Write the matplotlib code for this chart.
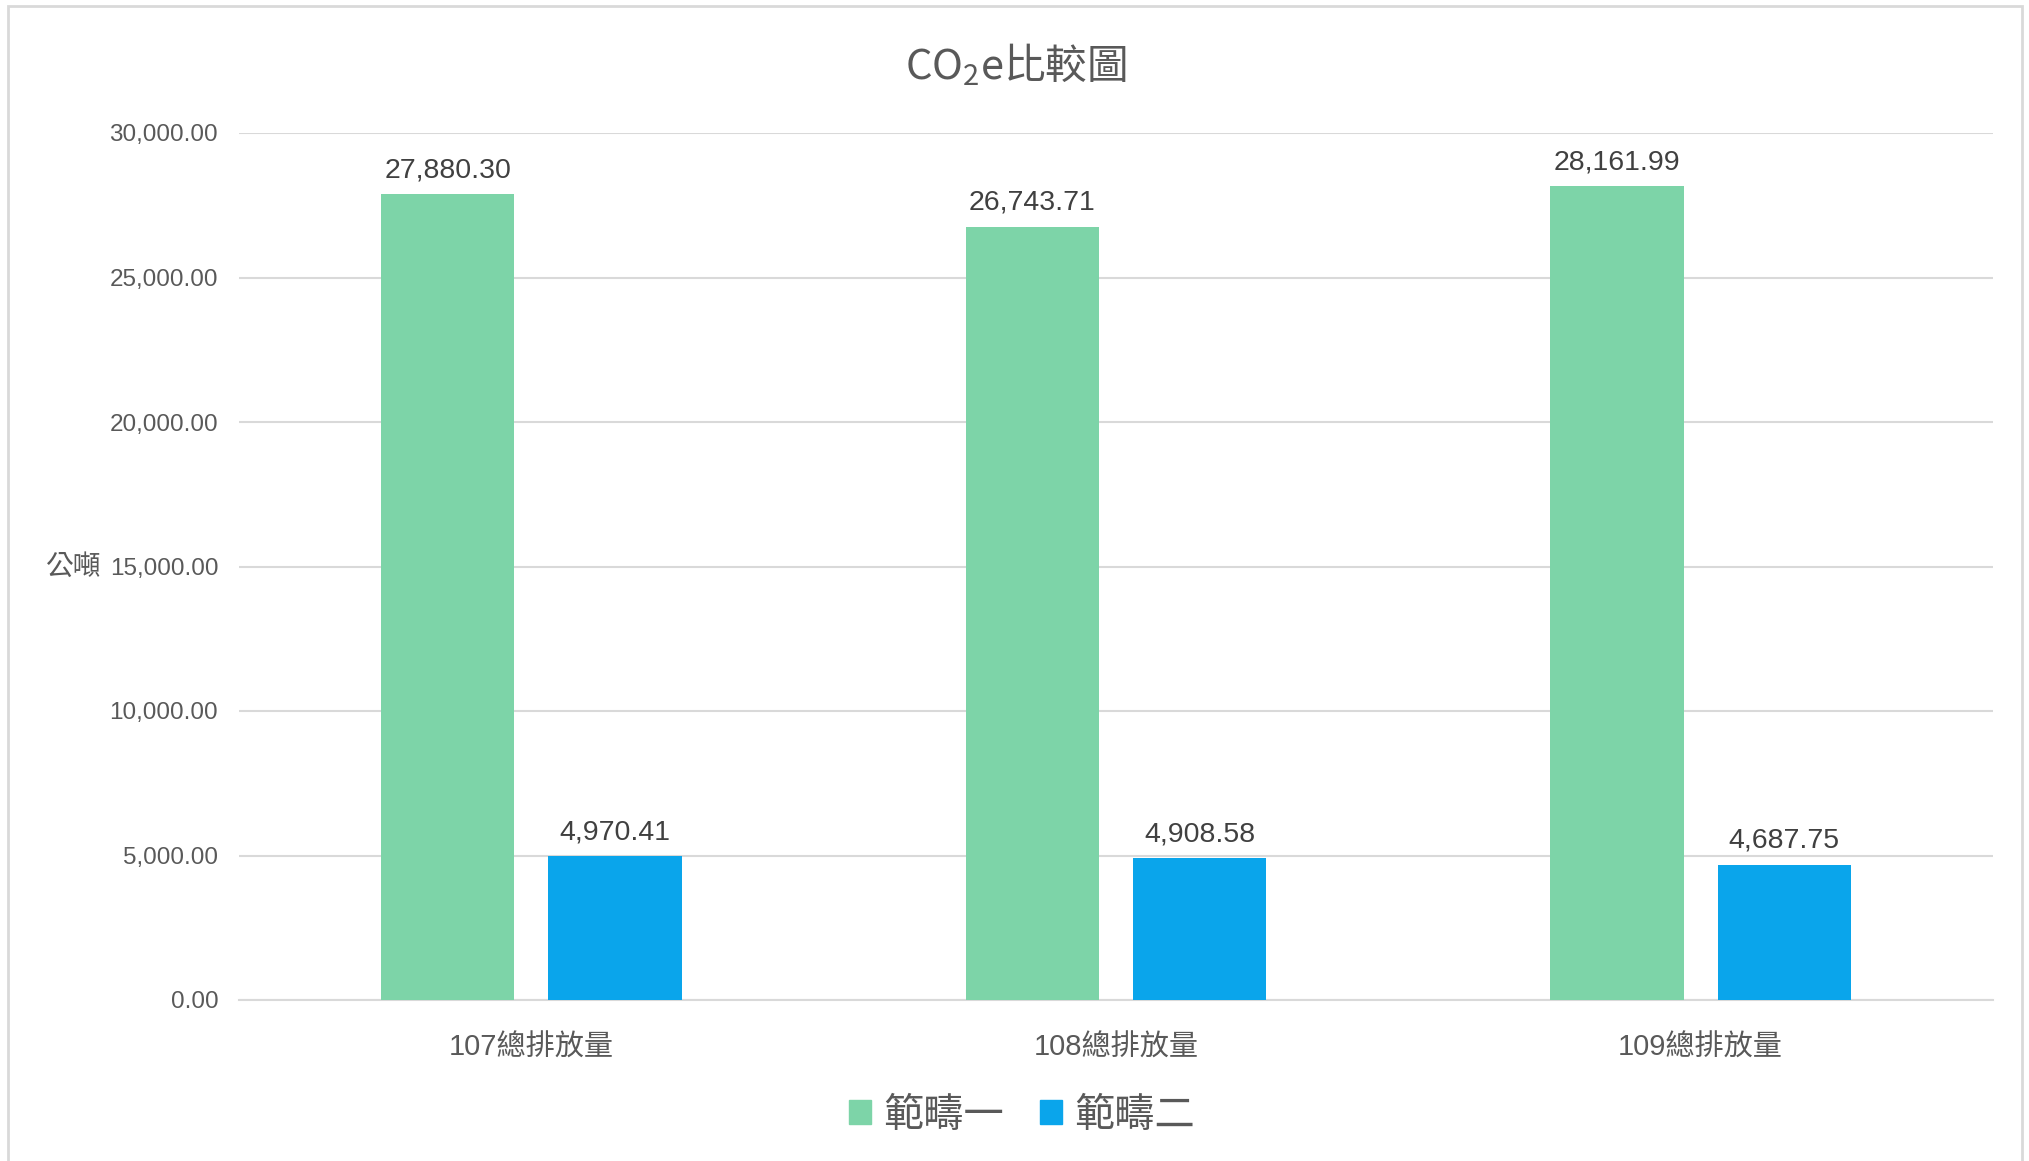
import numpy as np
import matplotlib.pyplot as plt
from matplotlib.patches import Patch, Rectangle
from matplotlib.ticker import FuncFormatter

# data
categories = ['107總排放量', '108總排放量', '109總排放量']
scope1 = [27880.30, 26743.71, 28161.99]
scope2 = [4970.41, 4908.58, 4687.75]
series_names = ['範疇一', '範疇二']
colors = ['#7dd4a8', '#0aa5eb']

plt.rcParams['font.family'] = ['Liberation Sans', 'Noto Sans CJK TC']
plt.rcParams['mathtext.fontset'] = 'custom'
plt.rcParams['mathtext.rm'] = 'Noto Sans CJK TC'

W, H = 2029, 1161
fig = plt.figure(figsize=(W / 100, H / 100), dpi=100)
ax = fig.add_axes([239 / W, 1 - 1000 / H, (1993 - 239) / W, (1000 - 133) / H])

x = np.arange(len(categories))
bw = 0.228
off = 0.143
b1 = ax.bar(x - off, scope1, bw, color=colors[0], zorder=3)
b2 = ax.bar(x + off, scope2, bw, color=colors[1], zorder=3)

for bars, vals in [(b1, scope1), (b2, scope2)]:
    for b, v in zip(bars, vals):
        ax.annotate(f'{v:,.2f}', (b.get_x() + b.get_width() / 2, v),
                    xytext=(0, 8), textcoords='offset points',
                    ha='center', va='bottom', fontsize=20.5, color='#404040')

ax.set_xlim(-0.5, 2.5)
ax.set_ylim(0, 30000)
ax.set_yticks(np.arange(0, 30001, 5000))
ax.yaxis.set_major_formatter(FuncFormatter(lambda v, p: f'{v:,.2f}'))
ax.set_xticks(x)
ax.set_xticklabels(categories)
ax.tick_params(axis='y', length=0, pad=15, labelsize=17.5, labelcolor='#595959')
ax.tick_params(axis='x', length=0, pad=24, labelsize=21, labelcolor='#595959')
ax.grid(axis='y', color='#d9d9d9', linewidth=1.5, zorder=0)
for s in ['top', 'right', 'left']:
    ax.spines[s].set_visible(False)
ax.spines['bottom'].set_color('#d9d9d9')
ax.spines['bottom'].set_linewidth(1.5)

fig.text(1016 / W, 1 - 65 / H, r'CO$_\mathrm{2}$e比較圖', ha='center', va='center',
         fontsize=30, color='#595959', family='Noto Sans CJK TC')
fig.text(74 / W, 1 - 567 / H, '公噸', ha='center', va='center',
         fontsize=20, color='#595959', family='Noto Sans CJK TC')

handles = [Patch(color=c) for c in colors]
fig.legend(handles, series_names, loc='center', bbox_to_anchor=(1022 / W, 1 - 1115 / H),
           ncol=2, frameon=False, handlelength=0.55, handleheight=0.55,
           handletextpad=0.3, columnspacing=0.9,
           prop={'family': 'Noto Sans CJK TC', 'size': 29}, labelcolor='#595959')

fig.patches.append(Rectangle((8 / W, -0.01), (2022 - 8) / W, 1.01 - 6 / H,
                             transform=fig.transFigure, fill=False,
                             edgecolor='#d9d9d9', linewidth=2))

fig.savefig('out.png', dpi=100)
